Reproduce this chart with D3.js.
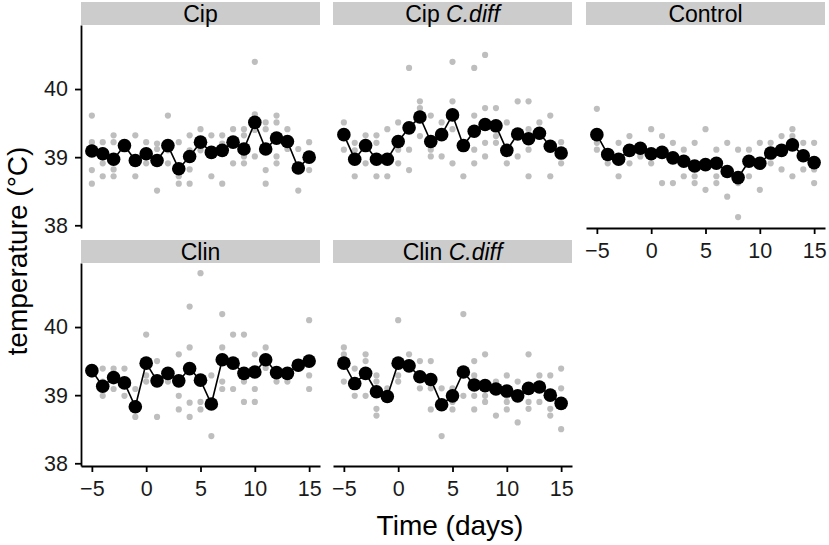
<!DOCTYPE html>
<html><head><meta charset="utf-8">
<script src="https://cdn.jsdelivr.net/npm/d3@7"></script>
<style>
body{margin:0;background:#fff}
text{font-family:"Liberation Sans",Arial,sans-serif}
</style>
</head><body>
<svg id="chart" width="829" height="545"></svg>
<script>
// ---------- data ----------
const days = [-5,-4,-3,-2,-1,0,1,2,3,4,5,6,7,8,9,10,11,12,13,14,15];
const xTicks = [-5,0,5,10,15];
const yTicks = [38,39,40];

const cipMean = [39.09,39.05,38.97,39.17,38.95,39.05,38.95,39.17,38.83,39.01,39.22,39.07,39.10,39.22,39.12,39.51,39.12,39.28,39.23,38.84,39.00];
const cipObs = [
 [39.61,39.22,38.81,38.61],[39.22,38.91,38.72,39.10],[39.32,39.22,38.82,38.72],[39.20,39.12],
 [39.32,38.72,38.95],[39.22,38.91,39.05],[39.12,38.51,39.20],[39.61,38.91,39.10],
 [39.22,38.72,38.61,38.80],[39.32,38.82,38.61,39.10],[39.41,39.20,39.10],[39.32,38.72,39.10],
 [39.32,38.61,39.20],[39.41,38.91,39.25],[39.41,39.32,38.91,39.01],[40.40,39.01,39.63,39.40],
 [39.51,39.41,38.81,38.61],[39.61,39.51,39.01,38.91],[39.41,39.12,39.20],[39.12,38.51],[39.22,38.81]
];

const cipCdMean = [39.33,38.97,39.17,38.97,38.97,39.23,39.43,39.59,39.23,39.33,39.62,39.17,39.38,39.48,39.46,39.10,39.34,39.27,39.35,39.16,39.06];
const cipCdObs = [
 [39.51,39.11,39.33],[39.21,38.72,39.10],[39.32,38.91,39.20],[39.32,39.21,38.72],
 [39.41,39.01,38.72],[39.51,39.11,38.91],[40.31,39.11,38.81,39.40],[39.82,39.72,39.31],
 [39.61,39.11,39.01],[39.51,39.01,39.30],[40.40,39.82,39.41,38.91],[38.72,39.20],
 [40.31,39.61,39.11,38.91],[40.50,39.72,39.21,39.01],[39.72,39.31,39.21],[39.51,38.91],
 [39.82,39.01],[39.82,39.41,39.11,38.72],[39.51,39.30],[39.61,38.72],[39.22,38.91]
];

const controlMean = [39.33,39.04,38.97,39.10,39.13,39.05,39.07,38.99,38.94,38.87,38.89,38.91,38.79,38.70,38.94,38.91,39.06,39.10,39.18,39.02,38.92];
const controlObs = [
 [39.71,39.11,39.21],[38.91,39.00],[39.21,38.72],[39.31,38.91],
 [39.01,39.10],[39.41,38.91],[39.31,38.62],[39.21,38.62],
 [39.11,38.72],[39.21,38.72,38.62],[39.41,38.52],[39.11,38.72,38.62],
 [39.21,38.42],[39.11,38.62,38.12],[39.11,38.72],[39.21,38.52],
 [39.21,38.91],[39.31,38.82],[39.41,39.31,38.72],[39.21,38.82],[39.21,38.82,38.62]
];

const clinMean = [39.36,39.13,39.26,39.18,38.83,39.47,39.21,39.32,39.21,39.39,39.22,38.87,39.52,39.47,39.32,39.34,39.52,39.33,39.32,39.44,39.50];
const clinObs = [
 [39.39,39.30],[39.39,39.20,38.99],[39.39,39.20,39.09],[39.39,38.99],
 [39.09,38.68],[39.89,39.29,39.20],[39.50,38.68],[39.20,39.30],
 [39.60,38.99,38.79],[40.30,39.70,38.89,38.68],[40.79,38.90,38.79],[39.29,38.40],
 [40.19,39.70,39.20,39.09],[39.89,39.09],[39.89,39.20,38.90],[39.60,39.09,38.90],
 [39.70,39.40],[39.20,39.30],[39.20,39.30],[39.39,39.45],[40.10,39.29,39.09]
];

const clinCdMean = [39.47,39.17,39.32,39.05,38.98,39.47,39.43,39.27,39.23,38.86,38.99,39.34,39.15,39.14,39.09,39.06,38.99,39.10,39.12,39.00,38.88];
const clinCdObs = [
 [39.70,39.60,39.20],[39.39,38.99],[39.60,39.50,38.99],[39.29,39.20,38.80,38.70],
 [39.10,38.95],[40.10,39.29,39.20],[39.60,39.40],[39.50,39.10],
 [39.50,39.10,38.79],[39.10,38.40],[39.10,38.90,38.79],[40.19,38.99],
 [39.50,39.29,38.99,38.79],[39.60,38.99,38.90],[39.20,38.70],[39.29,38.99,38.90,38.79],
 [39.20,38.60],[39.60,38.90,38.80],[39.29,38.90],[39.29,38.80,38.70],[39.39,39.10,38.50]
];

// ---------- layout ----------
const svg = d3.select("#chart");
const panelW = 239, panelH = 203, stripH = 23;
const colX = [81, 333, 586];
const rowY = [25, 263];
const FONT = '"Liberation Sans",Arial,sans-serif';

const panels = [
  {name:["Cip"], mean:cipMean, obs:cipObs, col:0, row:0, left:true, bottom:false},
  {name:["Cip ","C.diff"], mean:cipCdMean, obs:cipCdObs, col:1, row:0, left:false, bottom:false},
  {name:["Control"], mean:controlMean, obs:controlObs, col:2, row:0, left:false, bottom:true},
  {name:["Clin"], mean:clinMean, obs:clinObs, col:0, row:1, left:true, bottom:true},
  {name:["Clin ","C.diff"], mean:clinCdMean, obs:clinCdObs, col:1, row:1, left:false, bottom:true}
];

const x = d3.scaleLinear().domain([-6,16]).range([0,panelW]);
const y = d3.scaleLinear().domain([37.96,40.94]).range([panelH,0]);

panels.forEach(p => {
  const g = svg.append("g").attr("transform",`translate(${colX[p.col]},${rowY[p.row]})`);
  // strip
  g.append("rect").attr("x",0).attr("y",-stripH).attr("width",panelW).attr("height",stripH)
    .attr("fill","#cccccc");
  const st = g.append("text").attr("x",panelW/2).attr("y",-stripH/2).attr("dy","0.36em")
    .attr("text-anchor","middle").attr("font-size",23).attr("fill","#000");
  st.append("tspan").text(p.name[0]);
  if (p.name[1]) st.append("tspan").attr("font-style","italic").text(p.name[1]);

  // individual points
  const pts = [];
  p.obs.forEach((vals,i) => vals.forEach(v => pts.push({d:days[i], v})));
  g.append("g").selectAll("circle").data(pts).join("circle")
    .attr("cx",d=>x(d.d)).attr("cy",d=>y(d.v)).attr("r",3.1).attr("fill","#bebebe");

  // mean line + points
  const md = days.map((d,i)=>({d, v:p.mean[i]}));
  g.append("path").datum(md)
    .attr("d", d3.line().x(d=>x(d.d)).y(d=>y(d.v)))
    .attr("fill","none").attr("stroke","#000").attr("stroke-width",1.6);
  g.append("g").selectAll("circle").data(md).join("circle")
    .attr("cx",d=>x(d.d)).attr("cy",d=>y(d.v)).attr("r",6.8).attr("fill","#000");

  // axes
  if (p.left) {
    const ax = g.append("g").call(d3.axisLeft(y).tickValues(yTicks).tickFormat(d3.format("d"))
      .tickSize(6).tickPadding(7).tickSizeOuter(0));
    styleAxis(ax);
  }
  if (p.bottom) {
    const ax = g.append("g").attr("transform",`translate(0,${panelH})`)
      .call(d3.axisBottom(x).tickValues(xTicks).tickFormat(d3.format("d"))
      .tickSize(6).tickPadding(9).tickSizeOuter(0));
    styleAxis(ax);
  }
});

function styleAxis(ax){
  ax.select(".domain").attr("stroke","#000").attr("stroke-width",1.8);
  ax.selectAll(".tick line").attr("stroke","#000").attr("stroke-width",1.8);
  ax.selectAll(".tick text").attr("font-size",21.5).attr("fill","#1a1a1a").attr("font-family",FONT);
}

// axis titles
svg.append("text").attr("x",450).attr("y",535).attr("text-anchor","middle")
  .attr("font-size",28).attr("fill","#000").text("Time (days)");
svg.append("text").attr("transform","translate(27,251) rotate(-90)")
  .attr("text-anchor","middle").attr("font-size",28).attr("fill","#000").text("temperature (°C)");
</script>
</body></html>
